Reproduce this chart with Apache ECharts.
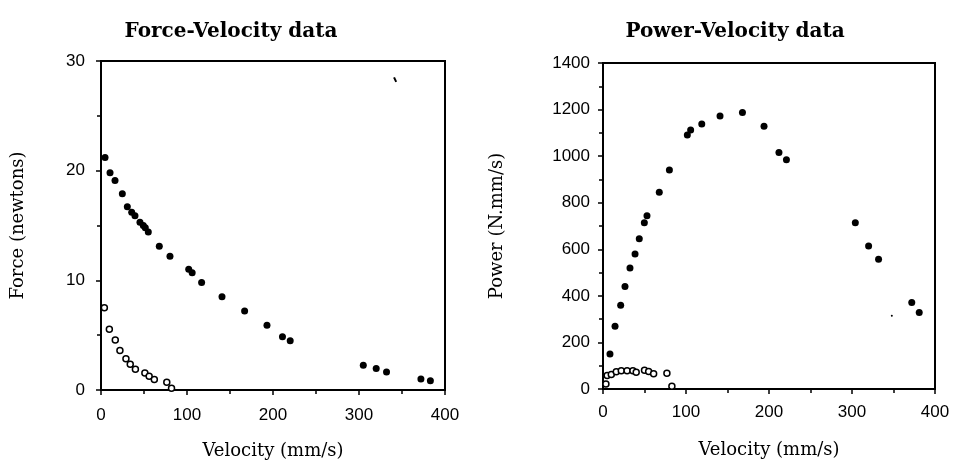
<!DOCTYPE html>
<html>
<head>
<meta charset="utf-8">
<script src="https://cdn.jsdelivr.net/npm/echarts@6/dist/echarts.min.js"></script>
<style>
  html, body { margin: 0; padding: 0; background: #fff; }
  #chart { width: 960px; height: 465px; }
</style>
</head>
<body>
<div id="chart"></div>
<script>
// force vs velocity, filled dots (first trace)
const forceFilled = [
  [4.7, 21.2], [10.5, 19.8], [16.3, 19.1], [24.8, 17.9], [30.6, 16.7], [35.7, 16.2],
  [39.5, 15.9], [45.3, 15.3], [49.2, 15.0], [51.5, 14.8], [55, 14.4], [67.8, 13.1],
  [80.2, 12.2], [102, 11.0], [106, 10.7], [117, 9.8], [140.7, 8.5], [167, 7.2],
  [193, 5.9], [211, 4.85], [220, 4.5], [305, 2.25], [320, 1.95], [332, 1.65],
  [372, 1.0], [383, 0.85]
];
// force vs velocity, open circles (second trace)
const forceOpen = [
  [3.9, 7.5], [9.7, 5.55], [16.6, 4.55], [22, 3.6], [29, 2.85], [34, 2.35],
  [40, 1.9], [51, 1.55], [56, 1.25], [62, 0.95], [76.5, 0.7], [82, 0.15]
];
// power vs velocity, filled dots
const powerFilled = [
  [8.4, 150], [14.5, 270], [21.3, 360], [26.5, 440], [32.5, 520], [38.6, 580],
  [43.7, 645], [49.8, 714], [53, 744], [67.8, 845], [80, 940], [101.6, 1091],
  [105.6, 1112], [119, 1138], [141, 1172], [168, 1187], [194, 1128], [212, 1016],
  [221, 985], [304, 714], [320, 614], [332, 557], [372, 372], [381, 328]
];
// power vs velocity, open circles
const powerOpen = [
  [3.5, 22], [5, 58], [10, 62], [16, 74], [22, 78], [29, 78], [36, 78],
  [40, 72], [50, 80], [55, 75], [61, 66], [77, 68], [83, 12]
];
// small stray marks on the scan
const specksLeft = [[342, 28.3]];
const specksRight = [[348, 315]];

const chart = echarts.init(document.getElementById('chart'));

const tickFont = { fontFamily: 'Liberation Sans', fontSize: 17, color: '#000' };
const nameFont = { fontFamily: 'DejaVu Serif', fontSize: 18, color: '#000' };

const xAxisBase = (gridIndex, labelMargin, gap) => ({
  gridIndex,
  type: 'value',
  min: 0, max: 400, interval: 100,
  name: 'Velocity (mm/s)',
  nameLocation: 'middle',
  nameGap: gap,
  nameTextStyle: nameFont,
  axisLine: { show: true, lineStyle: { color: '#000', width: 2 } },
  axisTick: { show: true, inside: false, length: 5, lineStyle: { color: '#000', width: 1.5 } },
  minorTick: { show: true, splitNumber: 2, length: 4, lineStyle: { color: '#000', width: 1.5 } },
  axisLabel: { ...tickFont, margin: labelMargin, formatter: v => String(v) },
  splitLine: { show: false }
});

const yAxisBase = (gridIndex, max, interval, name, gap, labelMargin) => ({
  gridIndex,
  type: 'value',
  min: 0, max, interval,
  name,
  nameLocation: 'middle',
  nameGap: gap,
  nameTextStyle: nameFont,
  axisLine: { show: true, lineStyle: { color: '#000', width: 2 } },
  axisTick: { show: true, inside: false, length: 5, lineStyle: { color: '#000', width: 1.5 } },
  minorTick: { show: true, splitNumber: 2, length: 4, lineStyle: { color: '#000', width: 1.5 } },
  axisLabel: { ...tickFont, margin: labelMargin, formatter: v => String(v) },
  splitLine: { show: false }
});

const filledStyle = { color: '#000', opacity: 1 };
const openStyle = { color: '#fff', borderColor: '#000', borderWidth: 1.5, opacity: 1 };
const titleFont = { fontFamily: 'DejaVu Serif', fontWeight: 'bold', fontSize: 20, color: '#000' };

const option = {
  backgroundColor: '#fff',
  animation: false,
  title: [
    { text: 'Force-Velocity data', left: 226, top: 17, textAlign: 'center', textStyle: titleFont },
    { text: 'Power-Velocity data', left: 730, top: 17, textAlign: 'center', textStyle: titleFont }
  ],
  grid: [
    { left: 101, top: 61, width: 344, height: 331, show: true, borderColor: '#000', borderWidth: 2 },
    { left: 603, top: 63, width: 332, height: 326, show: true, borderColor: '#000', borderWidth: 2 }
  ],
  xAxis: [xAxisBase(0, 17, 52), xAxisBase(1, 15, 52)],
  yAxis: [
    yAxisBase(0, 30, 10, 'Force (newtons)', 74, 16),
    yAxisBase(1, 1400, 200, 'Power (N.mm/s)', 97, 13)
  ],
  series: [
    { type: 'scatter', xAxisIndex: 0, yAxisIndex: 0, data: forceFilled, symbolSize: 7, itemStyle: filledStyle },
    { type: 'scatter', xAxisIndex: 0, yAxisIndex: 0, data: forceOpen, symbolSize: 6, itemStyle: openStyle },
    { type: 'scatter', xAxisIndex: 0, yAxisIndex: 0, data: specksLeft, symbol: 'rect', symbolSize: [2, 5], symbolRotate: 25, itemStyle: filledStyle },
    { type: 'scatter', xAxisIndex: 1, yAxisIndex: 1, data: powerFilled, symbolSize: 7, itemStyle: filledStyle },
    { type: 'scatter', xAxisIndex: 1, yAxisIndex: 1, data: powerOpen, symbolSize: 6, itemStyle: openStyle },
    { type: 'scatter', xAxisIndex: 1, yAxisIndex: 1, data: specksRight, symbolSize: 2, itemStyle: filledStyle }
  ]
};

chart.setOption(option);
</script>
</body>
</html>
